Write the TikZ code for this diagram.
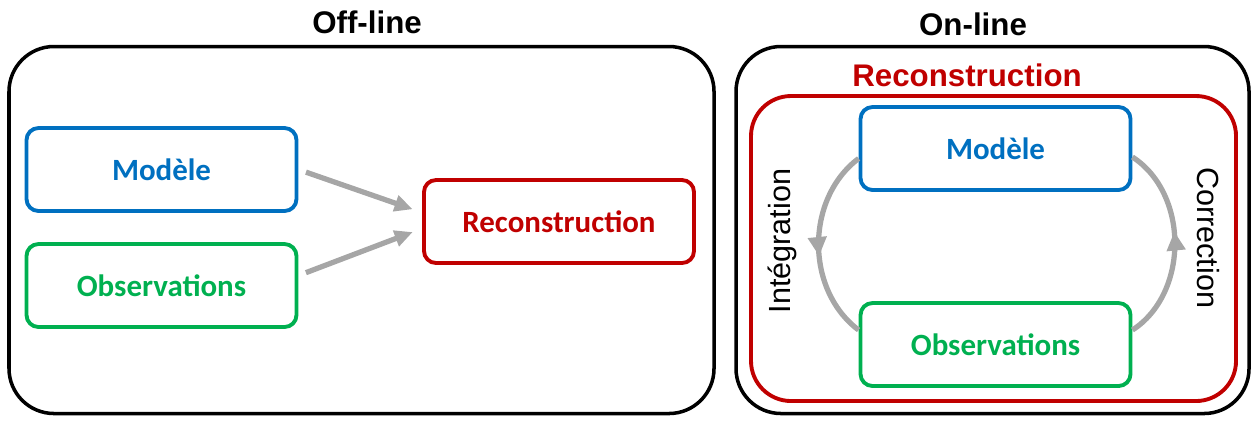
\documentclass[tikz,border=0pt]{standalone}
\usepackage{fontspec}
\setmainfont{Liberation Sans}
\newfontfamily\calibri{Carlito}
\usepackage{xcolor}
\usetikzlibrary{arrows.meta,calc,decorations.markings}

\definecolor{bleu}{HTML}{0070C0}
\definecolor{vert}{HTML}{00B050}
\definecolor{rouge}{HTML}{C00000}
\definecolor{gris}{HTML}{A6A6A6}

\begin{document}
\begin{tikzpicture}[
    cadre/.style={draw=black, line width=1pt, rounded corners=4.5mm, minimum width=#1, minimum height=3.67cm},
    boite/.style={draw=#1, text=#1, line width=1.1pt, rounded corners=1.2mm, minimum width=2.7cm, minimum height=0.83cm, font=\calibri\bfseries\fontsize{8.8}{10}\selectfont},
    titre/.style={font=\bfseries\fontsize{8.9}{10}\selectfont},
    fleche/.style={draw=gris, line width=1.5pt, -{Triangle[length=1.8mm,width=1.6mm]}},
    boucle/.style={color=gris, line width=1.5pt, postaction={decorate},
        decoration={markings, mark=at position 0.56 with {\arrow{Triangle[length=1.9mm,width=1.8mm]}}}},
    sens/.style={font=\fontsize{8.7}{10}\selectfont}
]
\useasboundingbox (0,0) rectangle (12.57,-4.23);

% off-line
\node[titre] (toff) at (3.67,-0.22) {Off-line};
\node[cadre=7.05cm] (off) at (3.615,-2.30) {};
\node[boite=bleu] (mod1) at (1.615,-1.695) {Modèle};
\node[boite=vert] (obs1) at (1.615,-2.855) {Observations};
\node[boite=rouge] (rec1) at (5.59,-2.215) {Reconstruction};
\draw[fleche, shorten <=0.8mm, shorten >=1mm] (mod1.east) -- ([yshift=0.9mm]rec1.west);
\draw[fleche, shorten <=0.8mm, shorten >=1mm] ([yshift=1mm]obs1.east) -- ([yshift=-0.7mm]rec1.west);

% on-line
\node[titre] (ton) at (9.73,-0.24) {On-line};
\node[cadre=5.13cm] (on) at (9.925,-2.30) {};
\node[titre, text=rouge] (trec) at (9.67,-0.75) {Reconstruction};
\node[draw=rouge, line width=1.1pt, rounded corners=4mm, minimum width=4.85cm, minimum height=3.05cm] (rec2) at (9.935,-2.485) {};
\node[boite=bleu] (mod2) at (9.955,-1.485) {Modèle};
\node[boite=vert] (obs2) at (9.955,-3.445) {Observations};
\draw[boucle] ([yshift=-1mm]mod2.west) to[out=217,in=143] ([yshift=1.45mm]obs2.west);
\draw[boucle] ([yshift=1.45mm]obs2.east) to[out=33,in=-33] ([yshift=-0.85mm]mod2.east);
\node[sens, rotate=90] (integ) at (7.82,-2.41) {Intégration};
\node[sens, rotate=-90] (corr) at (12.08,-2.375) {Correction};

\end{tikzpicture}
\end{document}
